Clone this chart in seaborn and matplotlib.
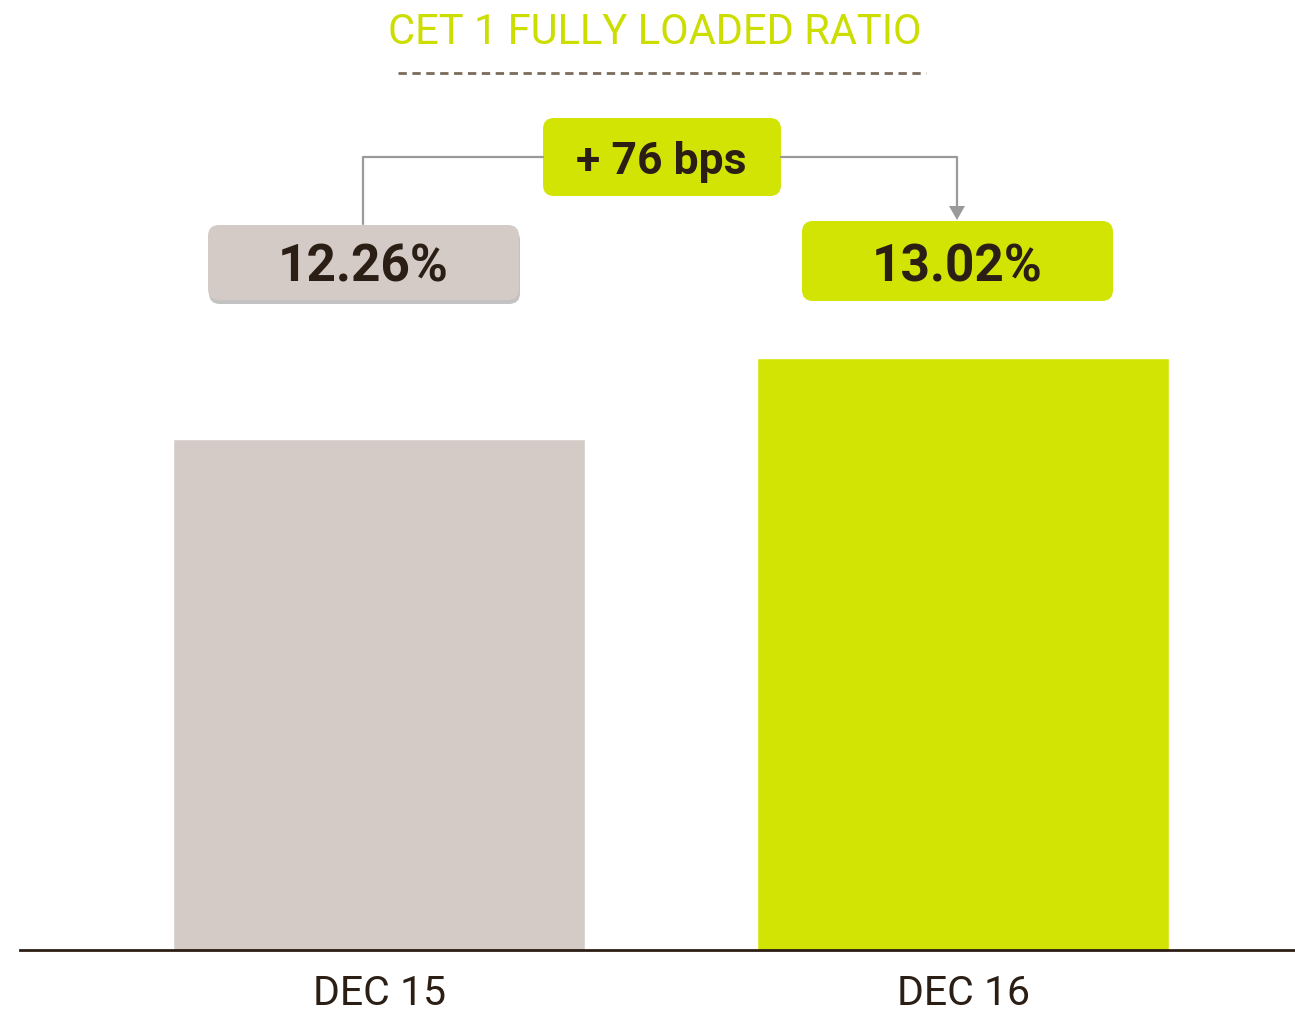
import matplotlib
matplotlib.use("Agg")
import matplotlib.pyplot as plt
import seaborn as sns
import pandas as pd
from matplotlib.patches import FancyBboxPatch
from matplotlib.transforms import Affine2D

periods = ["DEC 15", "DEC 16"]
ratios = [12.26, 13.02]
bar_colors = ["#D5CBC6", "#D2E403"]

LIME = "#D2E403"
DARK = "#2B1E15"
GREY = "#9A9A9A"

sns.set_theme(style="white")
plt.rcParams["font.family"] = ["Roboto", "DejaVu Sans"]

W, H = 1295, 1013
fig = plt.figure(figsize=(W / 100, H / 100), dpi=100)
ax = fig.add_axes([20 / W, 63 / H, 1275 / W, 950 / H])

df = pd.DataFrame({"period": periods, "ratio": ratios})
sns.barplot(data=df, x="period", y="ratio", hue="period", palette=bar_colors,
            width=0.705, legend=False, ax=ax, saturation=1)

ax.set_xlim(-0.615, 1.568)
ax.set_ylim(7.467, 16.379)
ax.set_xlabel("")
ax.set_ylabel("")
ax.set_yticks([])
for s in ["left", "right", "top"]:
    ax.spines[s].set_visible(False)
ax.spines["bottom"].set_color(DARK)
ax.spines["bottom"].set_linewidth(2)
ax.tick_params(axis="x", length=0, pad=17, labelsize=29.5, labelcolor=DARK)

# pixel coordinates (origin top-left)
px = Affine2D().scale(1, -1).translate(0, H)

def box(x0, y0, x1, y1, color, shadow=False):
    if shadow:
        sh = FancyBboxPatch((x0 + 1, y0 + 4), x1 - x0, y1 - y0,
                            boxstyle="round,pad=0,rounding_size=11",
                            fc="#A9A9A9", ec="none", alpha=0.7, transform=px)
        fig.add_artist(sh)
    p = FancyBboxPatch((x0, y0), x1 - x0, y1 - y0,
                       boxstyle="round,pad=0,rounding_size=11",
                       fc=color, ec="none", transform=px)
    fig.add_artist(p)

# title
fig.text(655 / W, 1 - 32 / H, "CET 1 FULLY LOADED RATIO", color="#CCDD00",
         fontsize=30, ha="center", va="center")
fig.add_artist(plt.Line2D([398, 926], [73, 73], color="#7B6B5B", lw=2,
                          dashes=(3, 2), transform=px))

# connector lines
fig.add_artist(plt.Line2D([363, 363, 543], [224, 157, 157], color=GREY,
                          lw=1.6, transform=px))
fig.add_artist(plt.Line2D([781, 957, 957], [157, 157, 208], color=GREY,
                          lw=1.6, transform=px))
fig.add_artist(plt.Polygon([[949, 206], [965, 206], [957, 220]], closed=True,
                           fc=GREY, ec="none", transform=px))

# value boxes
box(208, 225, 519, 300, bar_colors[0], shadow=True)
box(802, 221, 1113, 301, bar_colors[1])
box(543, 118, 781, 196, LIME)

fig.text(363 / W, 1 - 267 / H, f"{ratios[0]:.2f}%", color=DARK, fontsize=37,
         fontweight="bold", ha="center", va="center")
fig.text(957 / W, 1 - 267 / H, f"{ratios[1]:.2f}%", color=DARK, fontsize=37,
         fontweight="bold", ha="center", va="center")
delta = round((ratios[1] - ratios[0]) * 100)
fig.text(661 / W, 1 - 162 / H, f"+ {delta} bps", color=DARK, fontsize=32,
         fontweight="bold", ha="center", va="center")

fig.savefig("out.png", dpi=100)
